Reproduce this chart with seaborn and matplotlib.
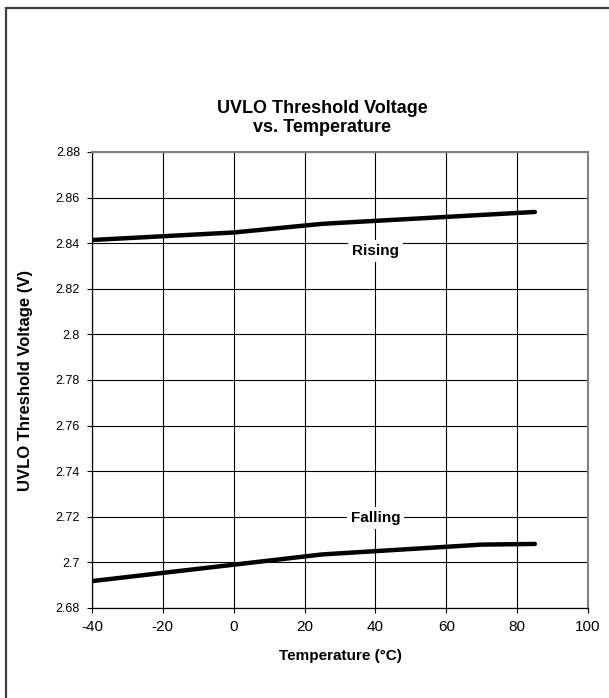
import pandas as pd
import seaborn as sns
import matplotlib.pyplot as plt
from matplotlib.patches import Rectangle

# values
temp_rising = [-40, 0, 25, 85]
volt_rising = [2.8414, 2.8447, 2.8485, 2.8537]
temp_falling = [-40, 0, 25, 70, 85]
volt_falling = [2.6918, 2.6990, 2.7035, 2.7078, 2.7081]
x_ticks = [-40, -20, 0, 20, 40, 60, 80, 100]
y_ticks = [2.68, 2.70, 2.72, 2.74, 2.76, 2.78, 2.80, 2.82, 2.84, 2.86, 2.88]
y_tick_labels = ["2.68", "2.7", "2.72", "2.74", "2.76", "2.78", "2.8",
                 "2.82", "2.84", "2.86", "2.88"]


def build_frame():
    rising = pd.DataFrame({"temp": temp_rising, "volt": volt_rising,
                           "edge": "Rising"})
    falling = pd.DataFrame({"temp": temp_falling, "volt": volt_falling,
                            "edge": "Falling"})
    return pd.concat([rising, falling], ignore_index=True)


def plot_chart(df):
    sns.set_style("white")
    plt.rcParams["font.family"] = ["Liberation Sans", "DejaVu Sans"]
    for key in ["text.color", "axes.labelcolor", "xtick.color", "ytick.color"]:
        plt.rcParams[key] = "black"

    W, H = 609, 698
    fig = plt.figure(figsize=(W / 100, H / 100), dpi=100)
    ax = fig.add_axes([92 / W, 1 - 608 / H, 496 / W, 456 / H])

    sns.lineplot(data=df, x="temp", y="volt", units="edge", estimator=None,
                 color="black", linewidth=3.2, ax=ax, legend=False)

    ax.set_xlim(-40, 100)
    ax.set_ylim(2.68, 2.88)
    ax.set_xticks(x_ticks)
    ax.set_xticklabels([str(t) for t in x_ticks], fontsize=11)
    ax.set_yticks(y_ticks)
    ax.set_yticklabels(y_tick_labels, fontsize=9)
    ax.grid(True, color="black", linewidth=0.8)
    ax.set_axisbelow(True)
    ax.tick_params(axis="both", direction="out", length=3.6, width=0.8,
                   color="black", bottom=True, left=True)
    ax.tick_params(axis="x", pad=5)
    ax.tick_params(axis="y", pad=5)

    for side in ["left", "bottom"]:
        ax.spines[side].set_color("black")
        ax.spines[side].set_linewidth(0.9)
    for side in ["top", "right"]:
        ax.spines[side].set_color("#808080")
        ax.spines[side].set_linewidth(1.5)

    ax.set_xlabel("Temperature (°C)", fontsize=11, fontweight="bold")
    ax.xaxis.set_label_coords(0.5, (608 - 656) / 456)
    ax.xaxis.label.set_va("center")
    ax.set_ylabel("UVLO Threshold Voltage (V)", fontsize=12,
                  fontweight="bold")
    ax.yaxis.set_label_coords((26 - 92) / 496, 0.5)
    ax.yaxis.label.set_va("center")

    # Excel centres the title on the whole chart area, not the plot area
    fig.text(322 / W, 1 - 118 / H, "UVLO Threshold Voltage\nvs. Temperature",
             fontsize=13, fontweight="bold", ha="center", va="center",
             linespacing=1.08)

    box = dict(facecolor="white", edgecolor="none", pad=3)
    ax.text(40, 2.8365, "Rising", fontsize=11, fontweight="bold",
            ha="center", va="center", bbox=box)
    ax.text(40, 2.7195, "Falling", fontsize=11, fontweight="bold",
            ha="center", va="center", bbox=box)

    # outer frame, cut off at right and bottom like the reference
    fig.patches.append(Rectangle((6 / W, -0.05), 1.2, 1 - 8 / H + 0.05,
                                 transform=fig.transFigure, fill=False,
                                 edgecolor="#404040", linewidth=1.6))

    fig.savefig("out.png", dpi=100)
    plt.close(fig)


if __name__ == "__main__":
    plot_chart(build_frame())
